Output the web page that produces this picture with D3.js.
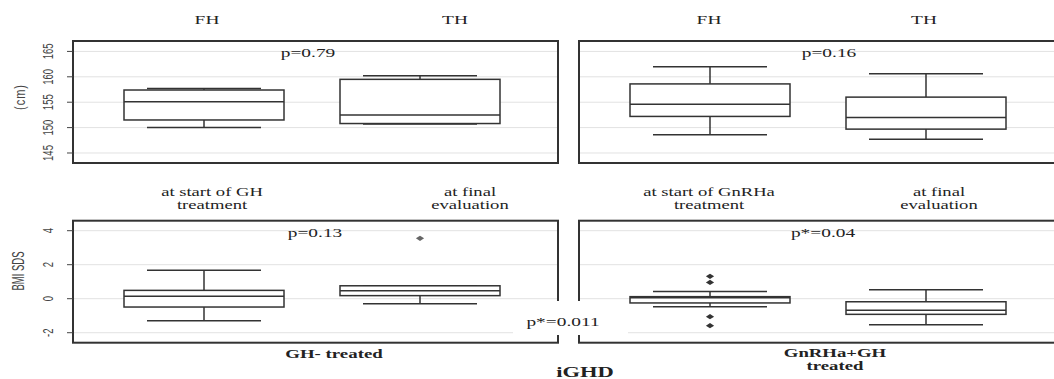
<!DOCTYPE html>
<html>
<head>
<script src="https://d3js.org/d3.v7.min.js"></script>
<style>
  body { margin: 0; background: #fff; }
  svg { display: block; }
</style>
</head>
<body>
<div id="chart"></div>
<script>
// --- data ---
const heightCats = ["FH", "TH"];
const bmiCatsLeft = [["at start of GH", "treatment"], ["at final", "evaluation"]];
const bmiCatsRight = [["at start of GnRHa", "treatment"], ["at final", "evaluation"]];
const groupLabels = [["GH- treated"], ["GnRHa+GH", "treated"]];

// five-number summaries: [min, q1, median, q3, max]
const heightLeft = [[150.0, 151.5, 155.1, 157.4, 157.7], [150.7, 150.8, 152.5, 159.5, 160.2]];
const heightRight = [[148.6, 152.2, 154.6, 158.6, 162.0], [147.7, 149.7, 152.0, 156.0, 160.6]];
const bmiLeft = [[-1.29, -0.49, 0.14, 0.49, 1.67], [-0.29, 0.18, 0.47, 0.76, 0.76]];
const bmiRight = [[-0.47, -0.25, 0.05, 0.12, 0.43], [-1.53, -0.92, -0.68, -0.18, 0.53]];
const bmiOutLeft = [[], [3.55]];
const bmiOutRight = [[1.32, 0.96, -1.06, -1.59], []];

const heightTicks = [145, 150, 155, 160, 165];
const bmiTicks = [-2, 0, 2, 4];
const pTop = ["p=0.79", "p=0.16"];
const pBottom = ["p=0.13", "p*=0.04"];
const pBetween = "p*=0.011";

// --- layout ---
const W = 1054, H = 379;
const svg = d3.select("#chart").append("svg").attr("width", W).attr("height", H);
const panelW = 485;
const panelX = [73, 579];
const topY = [41, 163], botY = [220.7, 342.7];
const SX = 1.55; // the picture is stretched sideways
const serif = "Liberation Serif, Times New Roman, serif";
const sans = "Liberation Sans, Arial, sans-serif";

const yH = d3.scaleLinear().domain([143.03, 167.05]).range([topY[1], topY[0]]);
const yB = d3.scaleLinear().domain([-2.588, 4.588]).range([botY[1], botY[0]]);
const xCat = d3.scalePoint().domain([0, 1]).range([131, 347]);

function text(g, str, x, y, opts) {
  opts = opts || {};
  g.append("text")
    .attr("transform", `translate(${x},${y}) scale(${opts.sx || SX},1)`)
    .attr("text-anchor", "middle")
    .attr("font-family", opts.family || serif)
    .attr("font-size", opts.size || 12.5)
    .attr("font-weight", opts.weight || "normal")
    .attr("fill", opts.fill || "#222")
    .text(str);
}

// rotated sans labels, stretched across their height like the picture
function vtext(str, x, y, size, sy, spacing) {
  svg.append("text")
    .attr("transform", `translate(${x},${y}) rotate(-90) scale(1,${sy})`)
    .attr("text-anchor", "middle")
    .attr("font-family", sans)
    .attr("font-size", size)
    .attr("letter-spacing", spacing || 0)
    .attr("fill", "#444")
    .text(str);
}

function panel(px, yScale, ticks, stats, outliers) {
  const g = svg.append("g").attr("transform", `translate(${px},0)`);
  const [y1, y0] = yScale.range();
  // grid
  g.selectAll(".grid").data(ticks).join("line")
    .attr("x1", 0).attr("x2", panelW)
    .attr("y1", d => yScale(d)).attr("y2", d => yScale(d))
    .attr("stroke", "#e2e2e2").attr("stroke-width", 1);
  stats.forEach((s, i) => {
    const cx = xCat(i);
    const bw = 80, ww = 57;
    const line = (x1, ya, x2, yb) => g.append("line")
      .attr("x1", x1).attr("x2", x2).attr("y1", ya).attr("y2", yb)
      .attr("stroke", "#333").attr("stroke-width", 1.5);
    line(cx, yScale(s[3]), cx, yScale(s[4]));
    line(cx, yScale(s[1]), cx, yScale(s[0]));
    line(cx - ww, yScale(s[4]), cx + ww, yScale(s[4]));
    line(cx - ww, yScale(s[0]), cx + ww, yScale(s[0]));
    g.append("rect")
      .attr("x", cx - bw).attr("width", 2 * bw)
      .attr("y", yScale(s[3])).attr("height", yScale(s[1]) - yScale(s[3]))
      .attr("fill", "#fff").attr("stroke", "#333").attr("stroke-width", 1.5);
    line(cx - bw, yScale(s[2]), cx + bw, yScale(s[2]));
    (outliers ? outliers[i] : []).forEach(v => {
      g.append("path")
        .attr("d", d3.symbol(d3.symbolDiamond, 8)())
        .attr("transform", `translate(${cx},${yScale(v)}) scale(2.7,1)`)
        .attr("fill", v > 3 ? "#666" : "#333");
    });
  });
  // frame
  g.append("rect").attr("x", 0).attr("y", y0).attr("width", panelW).attr("height", y1 - y0)
    .attr("fill", "none").attr("stroke", "#333").attr("stroke-width", 2);
  return g;
}

panel(panelX[0], yH, heightTicks, heightLeft);
panel(panelX[1], yH, heightTicks, heightRight);
panel(panelX[0], yB, bmiTicks, bmiLeft, bmiOutLeft);
panel(panelX[1], yB, bmiTicks, bmiRight, bmiOutRight);

// y axes
function yAxis(yScale, ticks) {
  const g = svg.append("g").attr("transform", `translate(${panelX[0]},0)`);
  g.selectAll("line").data(ticks).join("line")
    .attr("x1", -6).attr("x2", 0)
    .attr("y1", d => yScale(d)).attr("y2", d => yScale(d))
    .attr("stroke", "#444");
  ticks.forEach(t => vtext(String(t), 53, yScale(t), 9.5, 1.5));
}
yAxis(yH, heightTicks);
yAxis(yB, bmiTicks);
vtext("(cm)", 25, 97, 11, 1.35, 1);
vtext("BMI SDS", 23.5, 271, 9.5, 1.75);

// category labels
const tg = svg.append("g");
const topLabelX = [[134, 382], [130, 345]];
heightCats.forEach((c, i) => {
  text(tg, c, panelX[0] + topLabelX[0][i], 24);
  text(tg, c, panelX[1] + topLabelX[1][i], 24);
});
const midLabelX = [[139, 397], [130, 360]];
[bmiCatsLeft, bmiCatsRight].forEach((cats, p) => {
  cats.forEach((lines, i) => {
    lines.forEach((l, k) => text(tg, l, panelX[p] + midLabelX[p][i], 196 + k * 12.5, {size: 12}));
  });
});

// p values
text(tg, pTop[0], 308, 57);
text(tg, pTop[1], 829, 57);
text(tg, pBottom[0], 315, 237);
text(tg, pBottom[1], 823, 237);
tg.append("rect").attr("x", 513).attr("y", 301).attr("width", 115).attr("height", 34).attr("fill", "#fff");
text(tg, pBetween, 563, 326);

// group labels
text(tg, groupLabels[0][0], 334, 358, {weight: "bold", size: 13, sx: 1.45});
groupLabels[1].forEach((l, k) => text(tg, l, 835, 357 + k * 13, {weight: "bold", size: 12.5, sx: 1.5}));
text(tg, "iGHD", 585, 377, {weight: "bold", size: 15, sx: 1.5});
</script>
</body>
</html>
